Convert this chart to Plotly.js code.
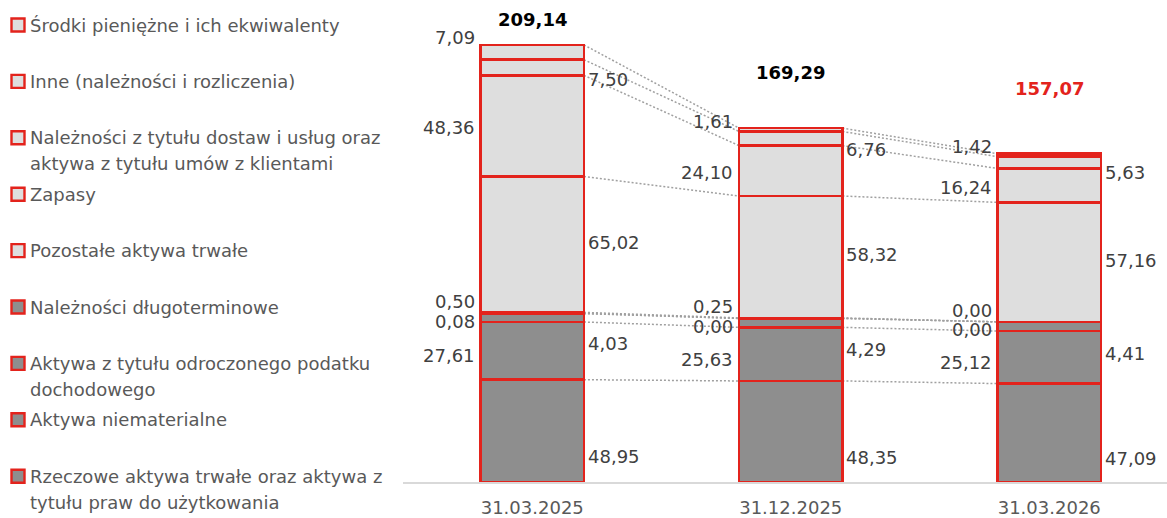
<!DOCTYPE html>
<html><head><meta charset="utf-8">
<script src="https://cdn.plot.ly/plotly-3.0.1.min.js"></script>
<style>html,body{margin:0;padding:0;background:#fff}#chart{width:1167px;height:518px}</style>
</head><body><div id="chart"></div>
<script>
// ---------- DATA ----------
const categories = ['31.03.2025', '31.12.2025', '31.03.2026'];
// series, bottom of stack to top
const rzeczowe = [48.95, 48.35, 47.09];
const niematerialne = [27.61, 25.63, 25.12];
const odroczonyPodatek = [4.03, 4.29, 4.41];
const naleznosciDlugo = [0.08, 0.00, 0.00];
const pozostaleTrwale = [0.50, 0.25, 0.00];
const zapasy = [65.02, 58.32, 57.16];
const naleznosciHandlowe = [48.36, 24.10, 16.24];
const inne = [7.50, 6.76, 5.63];
const srodki = [7.09, 1.61, 1.42];
const totals = [209.14, 169.29, 157.07];
const seriesNames = [
  'Rzeczowe aktywa trwałe oraz aktywa z tytułu praw do użytkowania',
  'Aktywa niematerialne',
  'Aktywa z tytułu odroczonego podatku dochodowego',
  'Należności długoterminowe',
  'Pozostałe aktywa trwałe',
  'Zapasy',
  'Należności z tytułu dostaw i usług oraz aktywa z tytułu umów z klientami',
  'Inne (należności i rozliczenia)',
  'Środki pieniężne i ich ekwiwalenty'
];
const legendLines = [
  ['Rzeczowe aktywa trwałe oraz aktywa z', 'tytułu praw do użytkowania'],
  ['Aktywa niematerialne'],
  ['Aktywa z tytułu odroczonego podatku', 'dochodowego'],
  ['Należności długoterminowe'],
  ['Pozostałe aktywa trwałe'],
  ['Zapasy'],
  ['Należności z tytułu dostaw i usług oraz', 'aktywa z tytułu umów z klientami'],
  ['Inne (należności i rozliczenia)'],
  ['Środki pieniężne i ich ekwiwalenty']
];
const seriesValues = [rzeczowe, niematerialne, odroczonyPodatek, naleznosciDlugo,
  pozostaleTrwale, zapasy, naleznosciHandlowe, inne, srodki];

// ---------- STYLE ----------
const RED = '#E3231C';
const LIGHT = '#DEDEDE';
const DARK = '#8E8E8E';
const FONT = 'DejaVu Sans, Liberation Sans, sans-serif';
const LABEL_COLOR = '#404040';
const fills = [DARK, DARK, DARK, DARK, LIGHT, LIGHT, LIGHT, LIGHT, LIGHT];
// label placement per series: side, anchor fraction within segment, vertical px nudge
const labelStyle = [
  {side: 'right', frac: 0.5, dy: -26},
  {side: 'left', frac: 0.5, dy: -5},
  {side: 'right', frac: 0, dy: -22},
  {side: 'left', frac: 1, dy: -8},
  {side: 'left', frac: 1, dy: 11},
  {side: 'right', frac: 0.5, dy: 2},
  {side: 'left', frac: 0.5, dy: -2},
  {side: 'right', frac: 0, dy: -4},
  {side: 'left', frac: 1, dy: 7}
];
const totalColors = ['#000000', '#000000', RED];
const totalLift = [25, 56, 65];
const BAR_W = 0.4;

// geometry of layout (px)
const W = 1167, H = 518;
const M = {l: 403, r: 0, t: 10, b: 36};
const plotW = W - M.l - M.r, plotH = H - M.t - M.b;
const PX_PER_UNIT = 2.09;
const yMax = plotH / PX_PER_UNIT;
const xMin = -0.5, xMax = xMin + plotW / 258.5;
const pxX = p => (p - M.l) / plotW;
const pxY = p => (H - M.b - p) / plotH;

// ---------- TRACES ----------
const traces = seriesValues.map((vals, k) => ({
  type: 'bar',
  name: seriesNames[k],
  x: categories,
  y: vals,
  width: BAR_W,
  marker: {color: fills[k], line: {color: RED, width: 2.6}},
  hoverinfo: 'x+y+name',
  showlegend: false
}));

// cumulative boundaries
const cum = seriesValues.map((_, k) => categories.map((c, i) => {
  let s = 0; for (let j = 0; j <= k; j++) s += seriesValues[j][i]; return s;
}));

const shapes = [];
const annotations = [];

// connectors
for (let k = 0; k < seriesValues.length; k++) {
  for (let i = 0; i < categories.length - 1; i++) {
    shapes.push({type: 'line', xref: 'x', yref: 'y', layer: 'below',
      x0: i + BAR_W / 2, y0: cum[k][i], x1: i + 1 - BAR_W / 2, y1: cum[k][i + 1],
      line: {color: '#A0A0A0', width: 1.5, dash: '2px,2px'}});
  }
}

const fmt = v => v.toFixed(2).replace('.', ',');

// segment labels
seriesValues.forEach((vals, k) => {
  const st = labelStyle[k];
  vals.forEach((v, i) => {
    const base = k === 0 ? 0 : cum[k - 1][i];
    const y = base + v * st.frac;
    const left = st.side === 'left';
    annotations.push({xref: 'x', yref: 'y', x: i + (left ? -BAR_W / 2 : BAR_W / 2), y: y,
      xanchor: left ? 'right' : 'left', yanchor: 'middle', xshift: left ? -4 : 2, yshift: st.dy,
      text: fmt(v), showarrow: false, font: {family: FONT, size: 18, color: LABEL_COLOR}});
  });
});

// totals
totals.forEach((t, i) => {
  annotations.push({xref: 'x', yref: 'y', x: i, y: t, yanchor: 'middle', yshift: totalLift[i],
    text: '<b>' + fmt(t) + '</b>', showarrow: false,
    font: {family: FONT, size: 18, color: totalColors[i]}});
});

// manual legend (top = last series)
const LEG_TOP = 25, LEG_STEP = 56.4, LEG_LINE = 26;
for (let j = 0; j < seriesValues.length; j++) {
  const k = seriesValues.length - 1 - j;
  const yc = LEG_TOP + j * LEG_STEP;
  shapes.push({type: 'rect', xref: 'paper', yref: 'paper',
    x0: pxX(11.5), x1: pxX(24.5), y0: pxY(yc - 6.5), y1: pxY(yc + 6.5),
    fillcolor: fills[k], line: {color: RED, width: 2.4}});
  legendLines[k].forEach((ln, m) => {
    annotations.push({xref: 'paper', yref: 'paper', x: pxX(28), y: pxY(yc + m * LEG_LINE),
      xanchor: 'left', yanchor: 'middle', text: ln, showarrow: false, align: 'left',
      font: {family: FONT, size: 18, color: '#595959'}});
  });
}

const layout = {
  width: W, height: H,
  margin: M,
  paper_bgcolor: '#ffffff', plot_bgcolor: '#ffffff',
  barmode: 'stack',
  showlegend: false,
  font: {family: FONT, color: '#595959'},
  xaxis: {type: 'category', range: [xMin, xMax], showline: true, linecolor: '#D9D9D9', linewidth: 2,
    ticks: '', showgrid: false, zeroline: false, fixedrange: true, ticklabelstandoff: 8,
    tickfont: {family: FONT, size: 18, color: '#595959'}},
  yaxis: {range: [0, yMax], visible: false, showgrid: false, zeroline: false, fixedrange: true},
  shapes: shapes,
  annotations: annotations
};

Plotly.newPlot('chart', traces, layout, {displayModeBar: false, staticPlot: true});
</script>
</body></html>
